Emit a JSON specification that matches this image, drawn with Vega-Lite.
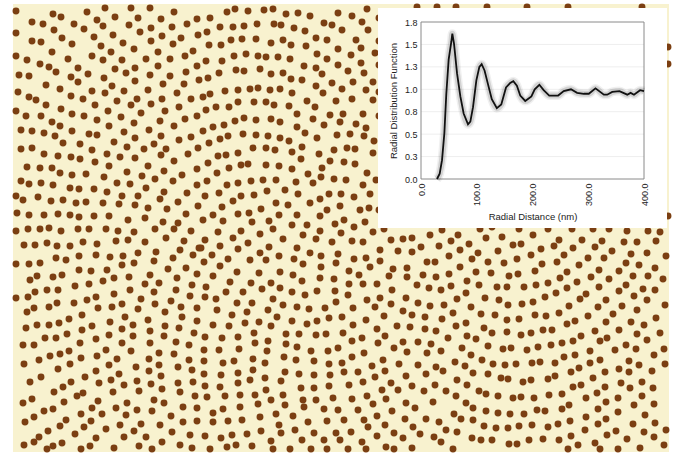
{"$schema":"https://vega.github.io/schema/vega-lite/v6.json","width":674,"height":456,"padding":0,"autosize":{"type":"none"},"background":"#ffffff",
"config":{"view":{"stroke":null}},
"datasets":{
"rdf":[{"d":28.7,"g":0},{"d":33.5,"g":0.06},{"d":37.7,"g":0.21},{"d":41.9,"g":0.51},{"d":45.4,"g":0.95},{"d":49.6,"g":1.33},{"d":54.4,"g":1.53},{"d":56.2,"g":1.62},{"d":59.2,"g":1.51},{"d":64.6,"g":1.18},{"d":70.6,"g":0.92},{"d":76.5,"g":0.73},{"d":84.3,"g":0.61},{"d":88.5,"g":0.64},{"d":93.3,"g":0.8},{"d":99.3,"g":1.1},{"d":104.7,"g":1.25},{"d":108.8,"g":1.28},{"d":114,"g":1.21},{"d":120,"g":1.06},{"d":127,"g":0.89},{"d":136,"g":0.79},{"d":144,"g":0.83},{"d":152.5,"g":1.02},{"d":160,"g":1.07},{"d":165.6,"g":1.09},{"d":172,"g":1.04},{"d":178,"g":0.93},{"d":187,"g":0.87},{"d":198,"g":0.92},{"d":204,"g":1},{"d":212.3,"g":1.05},{"d":220,"g":0.99},{"d":230,"g":0.93},{"d":246,"g":0.93},{"d":256,"g":0.98},{"d":269,"g":1},{"d":280,"g":0.96},{"d":292,"g":0.95},{"d":301,"g":0.95},{"d":313,"g":1.01},{"d":328,"g":0.94},{"d":334,"g":0.94},{"d":343,"g":0.97},{"d":356,"g":0.98},{"d":370,"g":0.94},{"d":376,"g":0.96},{"d":382,"g":0.94},{"d":393,"g":0.99},{"d":400,"g":0.98}],
"gridv":[{"g":0.25},{"g":0.5},{"g":0.75},{"g":1},{"g":1.25},{"g":1.5}],
"dots":[{"x":16,"y":11},{"x":32,"y":22},{"x":53,"y":14},{"x":61,"y":17},{"x":43,"y":24},{"x":87,"y":12},{"x":105,"y":8},{"x":131,"y":8},{"x":150,"y":8},{"x":174,"y":12},{"x":97,"y":20},{"x":115,"y":17},{"x":138,"y":18},{"x":161,"y":19},{"x":197,"y":19},{"x":74,"y":24},{"x":84,"y":29},{"x":103,"y":26},{"x":129,"y":25},{"x":151,"y":28},{"x":172,"y":27},{"x":187,"y":24},{"x":16,"y":33},{"x":54,"y":30},{"x":62,"y":38},{"x":94,"y":37},{"x":113,"y":35},{"x":140,"y":32},{"x":162,"y":36},{"x":198,"y":35},{"x":32,"y":41},{"x":41,"y":42},{"x":72,"y":44},{"x":101,"y":46},{"x":123,"y":43},{"x":151,"y":41},{"x":173,"y":44},{"x":181,"y":38},{"x":52,"y":52},{"x":134,"y":49},{"x":111,"y":52},{"x":158,"y":52},{"x":193,"y":51},{"x":16,"y":56},{"x":27,"y":60},{"x":68,"y":59},{"x":92,"y":56},{"x":103,"y":60},{"x":122,"y":60},{"x":146,"y":59},{"x":170,"y":59},{"x":185,"y":56},{"x":40,"y":64},{"x":49,"y":67},{"x":56,"y":72},{"x":78,"y":68},{"x":115,"y":69},{"x":135,"y":68},{"x":158,"y":66},{"x":197,"y":66},{"x":19,"y":75},{"x":29,"y":76},{"x":88,"y":74},{"x":126,"y":73},{"x":150,"y":75},{"x":170,"y":76},{"x":186,"y":72},{"x":71,"y":77},{"x":104,"y":78},{"x":78,"y":82},{"x":135,"y":81},{"x":199,"y":80},{"x":46,"y":85},{"x":112,"y":86},{"x":163,"y":84},{"x":184,"y":84},{"x":60,"y":89},{"x":92,"y":91},{"x":18,"y":92},{"x":124,"y":91},{"x":148,"y":90},{"x":105,"y":93},{"x":177,"y":93},{"x":29,"y":97},{"x":36,"y":100},{"x":71,"y":96},{"x":83,"y":99},{"x":117,"y":101},{"x":137,"y":99},{"x":162,"y":99},{"x":191,"y":99},{"x":46,"y":105},{"x":95,"y":105},{"x":131,"y":105},{"x":151,"y":104},{"x":179,"y":107},{"x":16,"y":111},{"x":61,"y":109},{"x":108,"y":111},{"x":165,"y":111},{"x":26,"y":116},{"x":41,"y":116},{"x":72,"y":114},{"x":84,"y":116},{"x":141,"y":113},{"x":121,"y":117},{"x":197,"y":116},{"x":97,"y":120},{"x":185,"y":119},{"x":52,"y":122},{"x":160,"y":121},{"x":134,"y":123},{"x":60,"y":126},{"x":109,"y":126},{"x":174,"y":126},{"x":21,"y":130},{"x":32,"y":131},{"x":72,"y":131},{"x":149,"y":130},{"x":44,"y":133},{"x":55,"y":136},{"x":89,"y":134},{"x":97,"y":135},{"x":124,"y":132},{"x":135,"y":138},{"x":161,"y":136},{"x":191,"y":137},{"x":179,"y":140},{"x":63,"y":143},{"x":114,"y":142},{"x":80,"y":144},{"x":154,"y":144},{"x":21,"y":149},{"x":32,"y":148},{"x":127,"y":147},{"x":92,"y":150},{"x":144,"y":149},{"x":166,"y":149},{"x":198,"y":148},{"x":44,"y":154},{"x":107,"y":154},{"x":188,"y":154},{"x":58,"y":156},{"x":71,"y":157},{"x":120,"y":157},{"x":161,"y":155},{"x":80,"y":159},{"x":135,"y":158},
{"x":27,"y":167},{"x":40,"y":168},{"x":52,"y":168},{"x":60,"y":173},{"x":72,"y":175},{"x":86,"y":174},{"x":95,"y":162},{"x":109,"y":166},{"x":104,"y":177},{"x":127,"y":172},{"x":148,"y":166},{"x":142,"y":176},{"x":164,"y":171},{"x":174,"y":161},{"x":197,"y":169},{"x":182,"y":175},{"x":155,"y":179},{"x":173,"y":181},{"x":21,"y":181},{"x":29,"y":184},{"x":41,"y":183},{"x":53,"y":185},{"x":117,"y":183},{"x":130,"y":184},{"x":197,"y":185},{"x":70,"y":188},{"x":79,"y":189},{"x":94,"y":189},{"x":146,"y":188},{"x":107,"y":192},{"x":164,"y":192},{"x":187,"y":193},{"x":16,"y":196},{"x":38,"y":197},{"x":122,"y":196},{"x":138,"y":196},{"x":23,"y":200},{"x":51,"y":201},{"x":63,"y":200},{"x":76,"y":203},{"x":86,"y":202},{"x":160,"y":199},{"x":103,"y":203},{"x":119,"y":204},{"x":135,"y":205},{"x":178,"y":202},{"x":198,"y":206},{"x":148,"y":208},{"x":167,"y":209},{"x":17,"y":213},{"x":29,"y":215},{"x":44,"y":215},{"x":58,"y":214},{"x":70,"y":215},{"x":79,"y":217},{"x":94,"y":216},{"x":109,"y":216},{"x":186,"y":214},{"x":145,"y":218},{"x":128,"y":220},{"x":163,"y":222},{"x":178,"y":223},{"x":16,"y":231},{"x":28,"y":229},{"x":40,"y":229},{"x":49,"y":228},{"x":61,"y":231},{"x":78,"y":229},{"x":89,"y":229},{"x":106,"y":229},{"x":118,"y":231},{"x":134,"y":232},{"x":155,"y":229},{"x":174,"y":229},{"x":191,"y":231},{"x":166,"y":238},{"x":24,"y":245},{"x":35,"y":245},{"x":47,"y":243},{"x":57,"y":246},{"x":70,"y":246},{"x":83,"y":242},{"x":97,"y":244},{"x":116,"y":241},{"x":128,"y":240},{"x":145,"y":242},{"x":184,"y":241},{"x":199,"y":248},{"x":180,"y":250},{"x":156,"y":252},{"x":138,"y":253},{"x":96,"y":255},{"x":79,"y":256},{"x":110,"y":257},{"x":123,"y":256},{"x":193,"y":255},{"x":56,"y":258},{"x":66,"y":260},{"x":173,"y":258},{"x":154,"y":261},{"x":134,"y":263},{"x":16,"y":264},{"x":29,"y":264},{"x":40,"y":263},{"x":122,"y":265},{"x":186,"y":268},{"x":79,"y":270},{"x":91,"y":271},{"x":107,"y":270},{"x":168,"y":269},{"x":150,"y":275},{"x":197,"y":274},{"x":30,"y":280},{"x":37,"y":276},{"x":53,"y":277},{"x":62,"y":275},{"x":114,"y":278},{"x":129,"y":277},{"x":177,"y":278},{"x":103,"y":281},{"x":89,"y":284},{"x":75,"y":286},{"x":145,"y":284},{"x":159,"y":283},{"x":192,"y":285},{"x":47,"y":290},{"x":58,"y":290},{"x":130,"y":290},{"x":176,"y":290},{"x":35,"y":292},{"x":154,"y":292},{"x":114,"y":294},{"x":190,"y":296},{"x":16,"y":298},{"x":28,"y":297},{"x":96,"y":297},{"x":87,"y":300},{"x":141,"y":299},{"x":171,"y":301},{"x":57,"y":303},{"x":74,"y":303},{"x":122,"y":304},{"x":155,"y":304},{"x":34,"y":308},{"x":49,"y":307},{"x":98,"y":308},{"x":112,"y":307},{"x":181,"y":307},{"x":197,"y":308},{"x":138,"y":309},
{"x":27,"y":312},{"x":82,"y":315},{"x":125,"y":317},{"x":165,"y":312},{"x":182,"y":317},{"x":69,"y":319},{"x":148,"y":320},{"x":197,"y":321},{"x":59,"y":323},{"x":110,"y":322},{"x":133,"y":325},{"x":49,"y":325},{"x":37,"y":325},{"x":26,"y":328},{"x":92,"y":326},{"x":82,"y":330},{"x":122,"y":329},{"x":165,"y":326},{"x":179,"y":328},{"x":150,"y":331},{"x":67,"y":334},{"x":194,"y":333},{"x":109,"y":335},{"x":133,"y":336},{"x":164,"y":336},{"x":45,"y":338},{"x":56,"y":338},{"x":96,"y":339},{"x":176,"y":342},{"x":80,"y":343},{"x":122,"y":343},{"x":150,"y":343},{"x":23,"y":345},{"x":34,"y":345},{"x":189,"y":345},{"x":106,"y":350},{"x":69,"y":351},{"x":131,"y":351},{"x":159,"y":353},{"x":60,"y":354},{"x":174,"y":354},{"x":50,"y":356},{"x":97,"y":356},{"x":81,"y":358},{"x":117,"y":359},{"x":39,"y":360},{"x":149,"y":359},{"x":189,"y":360},{"x":24,"y":364},{"x":70,"y":364},{"x":109,"y":365},{"x":159,"y":365},{"x":136,"y":367},{"x":178,"y":367},{"x":58,"y":369},{"x":192,"y":370},{"x":96,"y":371},{"x":149,"y":371},{"x":119,"y":374},{"x":161,"y":376},{"x":41,"y":377},{"x":85,"y":377},{"x":30,"y":382},{"x":71,"y":382},{"x":111,"y":380},{"x":137,"y":381},{"x":178,"y":383},{"x":193,"y":382},{"x":99,"y":383},{"x":124,"y":385},{"x":151,"y":384},{"x":63,"y":387},{"x":162,"y":389},{"x":54,"y":392},{"x":113,"y":392},{"x":139,"y":391},{"x":180,"y":392},{"x":83,"y":393},{"x":77,"y":396},{"x":195,"y":396},{"x":32,"y":399},{"x":154,"y":400},{"x":98,"y":401},{"x":23,"y":403},{"x":64,"y":402},{"x":164,"y":403},{"x":127,"y":403},{"x":116,"y":408},{"x":92,"y":408},{"x":53,"y":409},{"x":44,"y":411},{"x":183,"y":407},{"x":197,"y":408},{"x":137,"y":410},{"x":152,"y":411},{"x":81,"y":414},{"x":102,"y":414},{"x":126,"y":415},{"x":171,"y":416},{"x":34,"y":417},{"x":66,"y":420},{"x":91,"y":421},{"x":25,"y":422},{"x":183,"y":422},{"x":197,"y":421},{"x":141,"y":424},{"x":120,"y":425},{"x":160,"y":425},{"x":60,"y":426},{"x":84,"y":427},{"x":106,"y":429},{"x":134,"y":431},{"x":48,"y":431},{"x":172,"y":432},{"x":75,"y":434},{"x":39,"y":437},{"x":190,"y":435},{"x":146,"y":437},{"x":124,"y":437},{"x":96,"y":438},{"x":34,"y":442},{"x":24,"y":445},{"x":62,"y":443},{"x":162,"y":442},{"x":53,"y":446},{"x":90,"y":446},{"x":180,"y":445},{"x":47,"y":449},{"x":81,"y":449},{"x":114,"y":448},{"x":139,"y":446},{"x":152,"y":449},{"x":192,"y":448},
{"x":235,"y":9},{"x":227,"y":12},{"x":210,"y":18},{"x":248,"y":11},{"x":264,"y":10},{"x":273,"y":9},{"x":286,"y":14},{"x":298,"y":13},{"x":310,"y":16},{"x":338,"y":13},{"x":352,"y":16},{"x":367,"y":9},{"x":362,"y":22},{"x":220,"y":27},{"x":233,"y":27},{"x":244,"y":26},{"x":257,"y":24},{"x":274,"y":24},{"x":281,"y":25},{"x":294,"y":28},{"x":324,"y":23},{"x":332,"y":25},{"x":342,"y":30},{"x":368,"y":30},{"x":305,"y":31},{"x":207,"y":32},{"x":231,"y":40},{"x":242,"y":39},{"x":256,"y":39},{"x":316,"y":38},{"x":327,"y":40},{"x":356,"y":40},{"x":209,"y":45},{"x":221,"y":45},{"x":271,"y":43},{"x":283,"y":40},{"x":291,"y":45},{"x":306,"y":46},{"x":361,"y":48},{"x":338,"y":49},{"x":234,"y":56},{"x":246,"y":54},{"x":258,"y":56},{"x":266,"y":57},{"x":278,"y":57},{"x":317,"y":54},{"x":351,"y":55},{"x":375,"y":53},{"x":206,"y":61},{"x":222,"y":61},{"x":290,"y":59},{"x":327,"y":59},{"x":361,"y":63},{"x":338,"y":65},{"x":304,"y":66},{"x":316,"y":68},{"x":236,"y":70},{"x":244,"y":71},{"x":260,"y":69},{"x":348,"y":71},{"x":219,"y":73},{"x":271,"y":74},{"x":283,"y":73},{"x":322,"y":74},{"x":364,"y":73},{"x":208,"y":78},{"x":291,"y":79},{"x":302,"y":80},{"x":353,"y":82},{"x":332,"y":83},{"x":373,"y":82},{"x":316,"y":86},{"x":225,"y":91},{"x":238,"y":90},{"x":250,"y":89},{"x":258,"y":88},{"x":270,"y":90},{"x":280,"y":89},{"x":342,"y":89},{"x":366,"y":90},{"x":323,"y":93},{"x":292,"y":93},{"x":210,"y":94},{"x":203,"y":97},{"x":352,"y":99},{"x":373,"y":100},{"x":336,"y":101},{"x":307,"y":101},{"x":238,"y":102},{"x":254,"y":102},{"x":266,"y":102},{"x":274,"y":105},{"x":315,"y":107},{"x":289,"y":106},{"x":216,"y":107},{"x":229,"y":107},{"x":206,"y":110},{"x":343,"y":114},{"x":330,"y":115},{"x":363,"y":114},{"x":297,"y":114},{"x":313,"y":119},{"x":244,"y":118},{"x":235,"y":121},{"x":256,"y":120},{"x":271,"y":119},{"x":280,"y":122},{"x":340,"y":122},{"x":224,"y":125},{"x":324,"y":125},{"x":356,"y":124},{"x":213,"y":127},{"x":297,"y":127},{"x":366,"y":128},{"x":203,"y":131},{"x":305,"y":133},{"x":243,"y":134},{"x":256,"y":135},{"x":268,"y":136},{"x":280,"y":138},{"x":337,"y":135},{"x":350,"y":134},{"x":364,"y":136},{"x":228,"y":136},{"x":220,"y":139},{"x":317,"y":138},{"x":209,"y":143},{"x":289,"y":141},{"x":374,"y":141},{"x":253,"y":148},{"x":266,"y":148},{"x":275,"y":150},{"x":302,"y":147},{"x":347,"y":148},{"x":355,"y":149},{"x":334,"y":150},{"x":238,"y":153},{"x":292,"y":152},{"x":319,"y":154},{"x":373,"y":153},{"x":226,"y":155},{"x":218,"y":156},{"x":301,"y":159},
{"x":208,"y":163},{"x":229,"y":168},{"x":241,"y":165},{"x":248,"y":164},{"x":266,"y":165},{"x":279,"y":166},{"x":292,"y":169},{"x":322,"y":168},{"x":330,"y":161},{"x":344,"y":162},{"x":355,"y":164},{"x":217,"y":173},{"x":308,"y":174},{"x":367,"y":173},{"x":321,"y":177},{"x":207,"y":181},{"x":251,"y":181},{"x":263,"y":180},{"x":276,"y":180},{"x":296,"y":182},{"x":334,"y":179},{"x":346,"y":180},{"x":376,"y":180},{"x":227,"y":185},{"x":238,"y":183},{"x":313,"y":183},{"x":363,"y":185},{"x":267,"y":191},{"x":285,"y":190},{"x":219,"y":193},{"x":205,"y":196},{"x":241,"y":196},{"x":254,"y":195},{"x":298,"y":194},{"x":329,"y":194},{"x":341,"y":194},{"x":370,"y":194},{"x":320,"y":199},{"x":354,"y":197},{"x":233,"y":201},{"x":276,"y":203},{"x":288,"y":205},{"x":310,"y":203},{"x":340,"y":206},{"x":222,"y":207},{"x":261,"y":209},{"x":369,"y":208},{"x":327,"y":210},{"x":360,"y":210},{"x":249,"y":213},{"x":238,"y":214},{"x":279,"y":215},{"x":297,"y":215},{"x":320,"y":216},{"x":213,"y":215},{"x":269,"y":221},{"x":203,"y":220},{"x":223,"y":221},{"x":252,"y":222},{"x":344,"y":220},{"x":365,"y":222},{"x":292,"y":225},{"x":307,"y":225},{"x":335,"y":224},{"x":354,"y":227},{"x":273,"y":229},{"x":384,"y":229},{"x":320,"y":231},{"x":218,"y":232},{"x":241,"y":231},{"x":373,"y":232},{"x":341,"y":233},{"x":260,"y":234},{"x":303,"y":235},{"x":233,"y":238},{"x":283,"y":239},{"x":316,"y":239},{"x":205,"y":240},{"x":391,"y":240},{"x":352,"y":241},{"x":363,"y":242},{"x":332,"y":242},{"x":248,"y":243},{"x":220,"y":246},{"x":269,"y":247},{"x":297,"y":248},{"x":238,"y":249},{"x":201,"y":248},{"x":380,"y":250},{"x":398,"y":251},{"x":260,"y":253},{"x":310,"y":253},{"x":338,"y":254},{"x":212,"y":255},{"x":279,"y":256},{"x":321,"y":256},{"x":228,"y":259},{"x":250,"y":260},{"x":266,"y":260},{"x":294,"y":259},{"x":354,"y":259},{"x":366,"y":258},{"x":380,"y":261},{"x":204,"y":262},{"x":303,"y":264},{"x":336,"y":263},{"x":220,"y":266},{"x":321,"y":267},{"x":370,"y":267},{"x":393,"y":269},{"x":237,"y":272},{"x":259,"y":273},{"x":280,"y":272},{"x":349,"y":271},{"x":359,"y":275},{"x":213,"y":276},{"x":293,"y":275},{"x":389,"y":276},{"x":320,"y":278},{"x":334,"y":279},{"x":302,"y":281},{"x":230,"y":282},{"x":251,"y":283},{"x":271,"y":283},{"x":349,"y":284},{"x":363,"y":284},{"x":377,"y":284},{"x":206,"y":287},{"x":262,"y":289},{"x":280,"y":288},{"x":392,"y":290},{"x":226,"y":292},{"x":243,"y":292},{"x":292,"y":292},{"x":317,"y":291},{"x":335,"y":291},{"x":305,"y":295},{"x":348,"y":295},{"x":205,"y":297},{"x":380,"y":298},{"x":216,"y":299},{"x":273,"y":299},{"x":367,"y":300},{"x":237,"y":303},{"x":252,"y":303},{"x":336,"y":302},{"x":391,"y":304},{"x":283,"y":305},{"x":297,"y":307},{"x":309,"y":309},{"x":325,"y":308},{"x":375,"y":307},{"x":268,"y":310},{"x":353,"y":308},{"x":217,"y":310},
{"x":232,"y":315},{"x":247,"y":312},{"x":277,"y":317},{"x":329,"y":318},{"x":342,"y":317},{"x":366,"y":320},{"x":384,"y":316},{"x":292,"y":321},{"x":307,"y":324},{"x":317,"y":321},{"x":245,"y":323},{"x":259,"y":322},{"x":213,"y":325},{"x":229,"y":326},{"x":271,"y":326},{"x":353,"y":325},{"x":377,"y":329},{"x":397,"y":326},{"x":254,"y":333},{"x":286,"y":334},{"x":299,"y":334},{"x":316,"y":335},{"x":326,"y":334},{"x":343,"y":333},{"x":385,"y":336},{"x":205,"y":337},{"x":222,"y":338},{"x":238,"y":337},{"x":362,"y":338},{"x":268,"y":341},{"x":352,"y":341},{"x":255,"y":343},{"x":286,"y":344},{"x":378,"y":343},{"x":297,"y":347},{"x":204,"y":350},{"x":219,"y":350},{"x":239,"y":349},{"x":338,"y":348},{"x":394,"y":348},{"x":267,"y":351},{"x":311,"y":351},{"x":328,"y":351},{"x":364,"y":353},{"x":284,"y":357},{"x":352,"y":357},{"x":253,"y":359},{"x":383,"y":360},{"x":204,"y":361},{"x":296,"y":360},{"x":314,"y":361},{"x":223,"y":363},{"x":234,"y":361},{"x":265,"y":363},{"x":342,"y":363},{"x":329,"y":364},{"x":399,"y":364},{"x":372,"y":366},{"x":253,"y":370},{"x":385,"y":371},{"x":285,"y":372},{"x":344,"y":372},{"x":358,"y":372},{"x":204,"y":374},{"x":238,"y":373},{"x":221,"y":375},{"x":299,"y":374},{"x":314,"y":375},{"x":330,"y":375},{"x":375,"y":377},{"x":265,"y":378},{"x":250,"y":380},{"x":281,"y":381},{"x":363,"y":382},{"x":238,"y":383},{"x":205,"y":386},{"x":220,"y":387},{"x":391,"y":383},{"x":349,"y":385},{"x":329,"y":386},{"x":301,"y":388},{"x":314,"y":388},{"x":266,"y":390},{"x":382,"y":390},{"x":398,"y":390},{"x":240,"y":395},{"x":283,"y":395},{"x":255,"y":395},{"x":225,"y":396},{"x":207,"y":397},{"x":367,"y":396},{"x":333,"y":398},{"x":271,"y":400},{"x":303,"y":400},{"x":316,"y":400},{"x":352,"y":399},{"x":386,"y":399},{"x":258,"y":404},{"x":373,"y":404},{"x":285,"y":405},{"x":304,"y":407},{"x":240,"y":407},{"x":223,"y":409},{"x":324,"y":409},{"x":338,"y":410},{"x":358,"y":410},{"x":392,"y":411},{"x":213,"y":413},{"x":276,"y":414},{"x":293,"y":416},{"x":260,"y":417},{"x":377,"y":416},{"x":242,"y":420},{"x":228,"y":421},{"x":213,"y":422},{"x":308,"y":422},{"x":327,"y":421},{"x":344,"y":420},{"x":364,"y":420},{"x":279,"y":425},{"x":368,"y":427},{"x":385,"y":425},{"x":295,"y":430},{"x":261,"y":431},{"x":351,"y":432},{"x":314,"y":433},{"x":281,"y":433},{"x":247,"y":434},{"x":232,"y":435},{"x":336,"y":433},{"x":394,"y":433},{"x":205,"y":436},{"x":221,"y":438},{"x":377,"y":436},{"x":340,"y":440},{"x":271,"y":441},{"x":324,"y":440},{"x":302,"y":440},{"x":362,"y":442},{"x":236,"y":445},{"x":252,"y":446},{"x":227,"y":447},{"x":386,"y":447},{"x":210,"y":449},{"x":273,"y":449},{"x":290,"y":449},{"x":311,"y":449},{"x":327,"y":449},{"x":348,"y":449},{"x":366,"y":449},{"x":394,"y":449},
{"x":442,"y":230},{"x":480,"y":229},{"x":492,"y":227},{"x":519,"y":229},{"x":548,"y":229},{"x":572,"y":229},{"x":593,"y":229},{"x":609,"y":229},{"x":627,"y":231},{"x":648,"y":231},{"x":660,"y":232},{"x":403,"y":239},{"x":412,"y":238},{"x":430,"y":235},{"x":458,"y":235},{"x":451,"y":241},{"x":502,"y":237},{"x":533,"y":235},{"x":486,"y":238},{"x":559,"y":240},{"x":582,"y":240},{"x":602,"y":241},{"x":624,"y":242},{"x":637,"y":242},{"x":656,"y":241},{"x":469,"y":244},{"x":513,"y":245},{"x":521,"y":244},{"x":554,"y":246},{"x":421,"y":247},{"x":439,"y":246},{"x":595,"y":247},{"x":573,"y":248},{"x":460,"y":250},{"x":541,"y":249},{"x":498,"y":251},{"x":612,"y":251},{"x":412,"y":252},{"x":478,"y":253},{"x":631,"y":254},{"x":647,"y":253},{"x":531,"y":255},{"x":564,"y":255},{"x":666,"y":256},{"x":449,"y":256},{"x":517,"y":259},{"x":588,"y":258},{"x":604,"y":258},{"x":472,"y":259},{"x":427,"y":262},{"x":435,"y":262},{"x":488,"y":262},{"x":557,"y":262},{"x":504,"y":263},{"x":542,"y":264},{"x":626,"y":263},{"x":579,"y":265},{"x":619,"y":271},{"x":639,"y":265},{"x":407,"y":268},{"x":460,"y":267},{"x":655,"y":268},{"x":599,"y":270},{"x":535,"y":271},{"x":476,"y":272},{"x":567,"y":272},{"x":423,"y":275},{"x":449,"y":274},{"x":491,"y":273},{"x":518,"y":274},{"x":509,"y":276},{"x":407,"y":277},{"x":436,"y":277},{"x":633,"y":276},{"x":648,"y":276},{"x":591,"y":277},{"x":560,"y":278},{"x":609,"y":279},{"x":467,"y":281},{"x":663,"y":279},{"x":577,"y":282},{"x":548,"y":283},{"x":417,"y":285},{"x":479,"y":285},{"x":626,"y":285},{"x":451,"y":286},{"x":536,"y":285},{"x":497,"y":287},{"x":507,"y":287},{"x":524,"y":287},{"x":429,"y":288},{"x":567,"y":288},{"x":599,"y":287},{"x":441,"y":290},{"x":643,"y":289},{"x":655,"y":290},{"x":619,"y":291},{"x":466,"y":293},{"x":556,"y":293},{"x":586,"y":294},{"x":634,"y":296},{"x":406,"y":298},{"x":545,"y":297},{"x":485,"y":298},{"x":457,"y":299},{"x":580,"y":299},{"x":606,"y":300},{"x":647,"y":300},{"x":499,"y":300},{"x":418,"y":303},{"x":533,"y":302},{"x":522,"y":304},{"x":444,"y":305},{"x":508,"y":305},{"x":430,"y":306},{"x":569,"y":306},{"x":622,"y":306},{"x":665,"y":305},{"x":598,"y":307},{"x":471,"y":307},{"x":403,"y":311},{"x":637,"y":310},{"x":453,"y":313},{"x":559,"y":313},{"x":412,"y":315},{"x":613,"y":314},{"x":481,"y":314},{"x":495,"y":315},{"x":535,"y":315},{"x":546,"y":316},{"x":588,"y":316},{"x":425,"y":317},{"x":442,"y":319},{"x":507,"y":320},{"x":519,"y":319},{"x":656,"y":318},{"x":631,"y":322},{"x":575,"y":321},{"x":567,"y":324},{"x":606,"y":322},{"x":466,"y":323},{"x":644,"y":325},{"x":456,"y":326},{"x":410,"y":327},{"x":425,"y":329},{"x":484,"y":328},{"x":436,"y":331},{"x":543,"y":330},{"x":552,"y":330},{"x":619,"y":330},{"x":595,"y":331},{"x":492,"y":333},{"x":507,"y":332},{"x":531,"y":333},{"x":521,"y":335},{"x":637,"y":334},{"x":660,"y":333},{"x":467,"y":336},{"x":581,"y":336},{"x":448,"y":338},{"x":476,"y":339},{"x":607,"y":338},{"x":600,"y":341},{"x":573,"y":341},{"x":647,"y":340},{"x":403,"y":342},{"x":418,"y":342},{"x":431,"y":344},{"x":562,"y":343},{"x":551,"y":345},{"x":488,"y":346},{"x":626,"y":345},{"x":538,"y":347},{"x":503,"y":349},{"x":511,"y":348},{"x":462,"y":348},{"x":527,"y":350},{"x":664,"y":349},{"x":407,"y":352},{"x":636,"y":349},{"x":441,"y":351},{"x":615,"y":350},{"x":590,"y":351},{"x":427,"y":353},{"x":575,"y":355},{"x":471,"y":355},{"x":654,"y":355},{"x":564,"y":357},{"x":482,"y":360},{"x":600,"y":360},{"x":455,"y":362},{"x":629,"y":361},{"x":532,"y":363},{"x":540,"y":362},{"x":555,"y":363},{"x":590,"y":363},{"x":493,"y":364},{"x":505,"y":365},{"x":516,"y":364},{"x":465,"y":366},{"x":418,"y":365},{"x":436,"y":367},{"x":639,"y":365},{"x":665,"y":364},{"x":579,"y":368},{"x":619,"y":369},{"x":443,"y":371},{"x":571,"y":372},{"x":652,"y":371},{"x":629,"y":372},{"x":605,"y":372},{"x":473,"y":373},{"x":426,"y":374},{"x":488,"y":374},{"x":406,"y":376},{"x":555,"y":376},{"x":548,"y":379},{"x":501,"y":378},{"x":508,"y":379},{"x":531,"y":380},{"x":593,"y":378},{"x":523,"y":382},{"x":457,"y":380},{"x":642,"y":382},{"x":621,"y":383},{"x":467,"y":385},{"x":435,"y":385},{"x":412,"y":386},{"x":581,"y":385},{"x":573,"y":387},{"x":605,"y":387},{"x":630,"y":388},{"x":653,"y":388},{"x":479,"y":391},{"x":424,"y":391},{"x":446,"y":391},{"x":597,"y":393},{"x":486,"y":394},{"x":456,"y":396},{"x":562,"y":394},{"x":549,"y":395},{"x":498,"y":396},{"x":642,"y":396},{"x":513,"y":398},{"x":521,"y":397},{"x":534,"y":398},{"x":586,"y":398},{"x":618,"y":398},{"x":606,"y":402},{"x":406,"y":403},{"x":433,"y":402},{"x":466,"y":403},{"x":569,"y":405},{"x":634,"y":405},{"x":654,"y":404},{"x":415,"y":408},{"x":473,"y":408},{"x":598,"y":409},{"x":562,"y":409},{"x":537,"y":410},{"x":545,"y":411},{"x":486,"y":411},{"x":618,"y":412},{"x":498,"y":413},{"x":510,"y":414},{"x":524,"y":414},{"x":454,"y":414},{"x":645,"y":415},{"x":586,"y":417},{"x":461,"y":419},{"x":405,"y":419},{"x":426,"y":419},{"x":606,"y":419},{"x":473,"y":420},{"x":570,"y":421},{"x":439,"y":422},{"x":655,"y":423},{"x":558,"y":424},{"x":598,"y":424},{"x":633,"y":424},{"x":532,"y":425},{"x":519,"y":426},{"x":484,"y":426},{"x":548,"y":427},{"x":413,"y":427},{"x":496,"y":428},{"x":508,"y":428},{"x":446,"y":430},{"x":457,"y":432},{"x":585,"y":430},{"x":616,"y":431},{"x":666,"y":430},{"x":644,"y":432},{"x":420,"y":434},{"x":607,"y":435},{"x":403,"y":438},{"x":434,"y":437},{"x":654,"y":437},{"x":571,"y":436},{"x":472,"y":438},{"x":481,"y":440},{"x":492,"y":440},{"x":529,"y":440},{"x":543,"y":439},{"x":559,"y":440},{"x":627,"y":439},{"x":441,"y":442},{"x":517,"y":444},{"x":509,"y":444},{"x":595,"y":443},{"x":578,"y":445},{"x":664,"y":445},{"x":412,"y":448},{"x":453,"y":449},{"x":568,"y":449},{"x":600,"y":449},{"x":618,"y":449},{"x":640,"y":448},
{"x":437,"y":7},{"x":487,"y":7},{"x":568,"y":7},{"x":417,"y":7},{"x":456,"y":7},{"x":527,"y":7},{"x":642,"y":7},{"x":668,"y":47},{"x":668,"y":64},{"x":668,"y":216},{"x":379,"y":18},{"x":379,"y":41},{"x":379,"y":65},{"x":379,"y":92},{"x":379,"y":116},{"x":379,"y":210}]
},
"layer":[
{"layer":[
{"mark":{"type":"rect","color":"#f8f2cf"},"data":{"values":[{"k":"paper"}]},"encoding":{"x":{"datum":13,"type":"quantitative","scale":{"domain":[0,674],"range":[0,674],"nice":false,"zero":false},"axis":null},"x2":{"datum":669},"y":{"datum":4,"type":"quantitative","scale":{"domain":[0,456],"range":[0,456],"nice":false,"zero":false},"axis":null},"y2":{"datum":452}}},
{"mark":{"type":"point","filled":true,"shape":"circle","color":"#7b3f12","opacity":1,"size":48},"data":{"name":"dots"},"encoding":{"x":{"field":"x","type":"quantitative","axis":null},"y":{"field":"y","type":"quantitative","axis":null}}},
{"mark":{"type":"rect","color":"#ffffff"},"data":{"values":[{"k":"inset"}]},"encoding":{"x":{"datum":378,"type":"quantitative"},"x2":{"datum":667},"y":{"datum":8,"type":"quantitative"},"y2":{"datum":228}}}
]},
{"layer":[
{"mark":{"type":"rule","color":"#eeeeee","strokeWidth":1},"data":{"name":"gridv"},"encoding":{"x":{"datum":0,"type":"quantitative","scale":{"domain":[0,400],"range":[421,644],"nice":false},"axis":{"orient":"bottom","offset":-277,"zindex":1,"values":[0,100,200,300,400],"format":".1f","labelAngle":-90,"labelFont":"Liberation Sans","labelFontSize":9,"labelColor":"#222222","labelPadding":4,"tickSize":0,"domain":false,"grid":false,"title":"Radial Distance (nm)","titleFont":"Liberation Sans","titleFontSize":9.5,"titleFontWeight":"normal","titleColor":"#222222","titlePadding":6}},"x2":{"datum":400},"y":{"field":"g","type":"quantitative","scale":{"domain":[0,1.75],"range":[179,22],"nice":false},"axis":{"orient":"left","offset":-421,"zindex":1,"values":[0,0.25,0.5,0.75,1,1.25,1.5,1.75],"format":".1f","labelFont":"Liberation Sans","labelFontSize":9,"labelColor":"#222222","labelPadding":4,"tickSize":0,"domain":false,"grid":false,"title":"Radial Distribution Function","titleFont":"Liberation Sans","titleFontSize":9.5,"titleFontWeight":"normal","titleColor":"#222222","titlePadding":6}}}},
{"mark":{"type":"rect","fillOpacity":0,"stroke":"#8a8a8a","strokeWidth":1},"data":{"values":[{"k":"frame"}]},"encoding":{"x":{"datum":0,"type":"quantitative"},"x2":{"datum":400},"y":{"datum":0,"type":"quantitative"},"y2":{"datum":1.75}}},
{"mark":{"type":"line","color":"#000000","strokeWidth":9,"opacity":0.06,"interpolate":"monotone"},"data":{"name":"rdf"},"encoding":{"x":{"field":"d","type":"quantitative"},"y":{"field":"g","type":"quantitative"}}},
{"mark":{"type":"line","color":"#000000","strokeWidth":6,"opacity":0.12,"interpolate":"monotone"},"data":{"name":"rdf"},"encoding":{"x":{"field":"d","type":"quantitative"},"y":{"field":"g","type":"quantitative"}}},
{"mark":{"type":"line","color":"#111111","strokeWidth":1.8,"interpolate":"linear"},"data":{"name":"rdf"},"encoding":{"x":{"field":"d","type":"quantitative"},"y":{"field":"g","type":"quantitative"}}}
]}
],
"resolve":{"scale":{"x":"independent","y":"independent"},"axis":{"x":"independent","y":"independent"}}
}
